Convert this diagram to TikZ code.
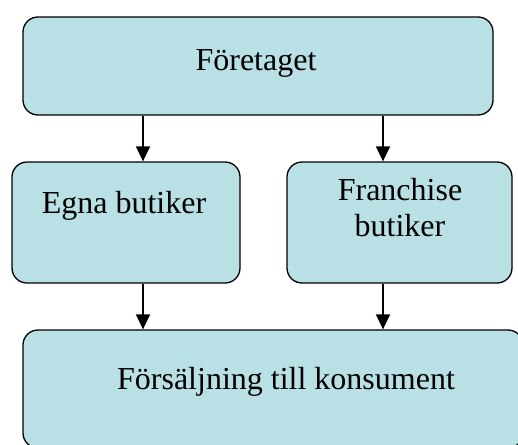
\documentclass[tikz,border=0pt]{standalone}
\usepackage{fontspec}
\setmainfont{Liberation Serif}
\usetikzlibrary{arrows.meta}
\definecolor{boxfill}{RGB}{185,224,228}
\tikzset{
  box/.style={draw=black, line width=1.3pt, fill=boxfill, rounded corners=15pt, inner sep=0pt},
  lbl/.style={font=\fontsize{32}{37}\selectfont, inner sep=0pt, align=center},
  arr/.style={line width=1.6pt, -{Triangle[width=14pt,length=15pt]}}
}
\begin{document}
\begin{tikzpicture}[x=1pt,y=-1pt]
\useasboundingbox (0,0) rectangle (518,444);
\clip (0,0) rectangle (518,444);
% boxes
\node[box, minimum width=470pt, minimum height=98pt] (top) at (258,66) {};
\node[box, minimum width=228pt, minimum height=121pt] (egna) at (126,222.5) {};
\node[box, minimum width=225pt, minimum height=121pt] (fran) at (399.5,222.5) {};
\node[box, minimum width=500pt, minimum height=118pt] (salj) at (273,389) {};
% texts
\node[lbl, anchor=base] (ttop) at (256,70) {Företaget};
\node[lbl, anchor=base] (tegna) at (124,213) {Egna butiker};
\node[lbl, anchor=base] (tfran1) at (400,200) {Franchise};
\node[lbl, anchor=base] (tfran2) at (400,236) {butiker};
\node[lbl, anchor=base] (tsalj) at (286,389) {Försäljning till konsument};
% connector columns
\coordinate (cl) at (143,0);
\coordinate (cr) at (383,0);
\draw[arr] (top.south -| cl) -- (egna.north -| cl);
\draw[arr] (top.south -| cr) -- (fran.north -| cr);
\draw[arr] (egna.south -| cl) -- (salj.north -| cl);
\draw[arr] (fran.south -| cr) -- (salj.north -| cr);
\end{tikzpicture}
\end{document}
